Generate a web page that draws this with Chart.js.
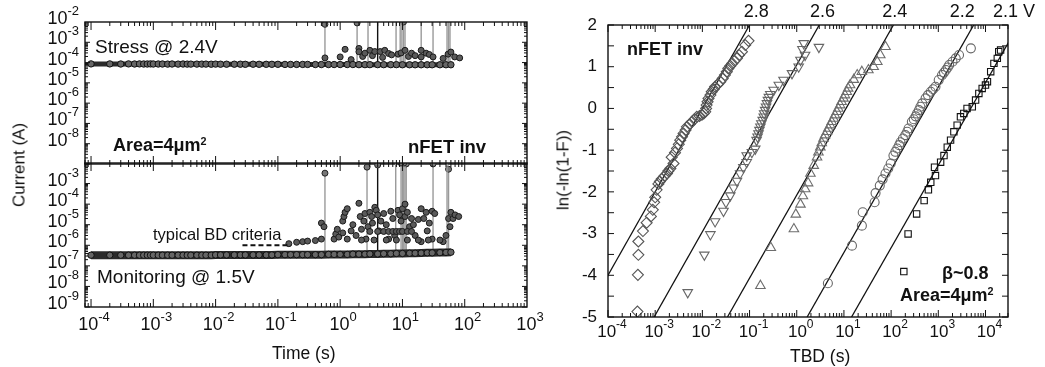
<!DOCTYPE html>
<html>
<head>
<meta charset="utf-8">
<script src="https://cdn.jsdelivr.net/npm/chart.js@4.4.1/dist/chart.umd.min.js"></script>
<style>
  body { margin: 0; background: #fff; width: 1045px; height: 367px; overflow: hidden; position: relative;
         font-family: "Liberation Sans", Arial, sans-serif; color: #111; }
  canvas { position: absolute; }
  .t { position: absolute; white-space: nowrap; line-height: 1; }
  .b { font-weight: bold; }
  .rot { transform: translate(-50%, -50%) rotate(-90deg); }
  .t sup { font-size: 0.6em; vertical-align: 0.55em; line-height: 0; }
</style>
</head>
<body>
<canvas id="stressChart" width="560" height="367" style="left:0;top:0"></canvas>
<canvas id="monitorChart" width="560" height="367" style="left:0;top:0"></canvas>
<canvas id="weibullChart" width="505" height="367" style="left:540px;top:0"></canvas>

<div class="t" style="left:95px;top:37px;font-size:19px">Stress @ 2.4V</div>
<div class="t b" style="left:113px;top:136px;font-size:18px">Area=4μm<sup>2</sup></div>
<div class="t b" style="left:408px;top:138px;font-size:18.5px">nFET inv</div>
<div class="t" style="left:153px;top:226px;font-size:16.5px">typical BD criteria</div>
<div class="t" style="left:97px;top:267px;font-size:19px">Monitoring @ 1.5V</div>
<div class="t" style="left:272px;top:345px;font-size:17.5px">Time (s)</div>
<div class="t rot" style="left:19px;top:165px;font-size:17px">Current (A)</div>

<div class="t b" style="left:627px;top:40px;font-size:18px">nFET inv</div>
<div class="t b" style="left:942px;top:264px;font-size:18px">β~0.8</div>
<div class="t b" style="left:900px;top:286px;font-size:18px">Area=4μm<sup>2</sup></div>
<div class="t" style="left:790px;top:348px;font-size:17.5px">TBD (s)</div>
<div class="t rot" style="left:563px;top:170px;font-size:17px">ln(-ln(1-F))</div>

<script>
// ---- left panels: current vs time ----
const baseTime = [1e-4, 2e-4, 3e-4, 4e-4, 5e-4, 6e-4, 7e-4, 8e-4, 9e-4, 1e-3,
  1.2e-3, 1.4e-3, 1.7e-3, 2e-3, 2.5e-3, 3e-3, 3.5e-3, 4e-3, 5e-3, 6e-3,
  7e-3, 8.5e-3, 0.01, 0.012, 0.015, 0.02, 0.025, 0.03, 0.04, 0.05,
  0.065, 0.08, 0.1, 0.13, 0.16, 0.2, 0.25, 0.3, 0.4, 0.5,
  0.65, 0.8, 1, 1.3, 1.6, 2, 2.5, 3, 4, 5,
  6.5, 8, 10, 13, 16, 20, 25, 30, 40, 50, 60];
const stressCurrent = [8.6e-5, 8.6e-5, 8.5e-5, 8.6e-5, 8.5e-5, 8.6e-5, 8.5e-5, 8.5e-5, 8.6e-5, 8.5e-5,
  8.5e-5, 8.5e-5, 8.4e-5, 8.5e-5, 8.4e-5, 8.5e-5, 8.4e-5, 8.4e-5, 8.4e-5, 8.4e-5,
  8.4e-5, 8.3e-5, 8.4e-5, 8.3e-5, 8.3e-5, 8.3e-5, 8.3e-5, 8.2e-5, 8.3e-5, 8.2e-5,
  8.2e-5, 8.2e-5, 8.2e-5, 8.1e-5, 8.1e-5, 8.1e-5, 8.1e-5, 8.1e-5, 8.0e-5, 8.0e-5,
  8.0e-5, 8.0e-5, 8.0e-5, 8.0e-5, 8.0e-5, 7.9e-5, 7.9e-5, 7.9e-5, 7.9e-5, 7.9e-5,
  7.9e-5, 7.9e-5, 7.8e-5, 7.8e-5, 7.8e-5, 7.8e-5, 7.8e-5, 7.8e-5, 7.8e-5, 7.8e-5, 7.8e-5];
const monitorCurrent = [3.3e-7, 3.3e-7, 3.3e-7, 3.3e-7, 3.3e-7, 3.3e-7, 3.3e-7, 3.3e-7, 3.3e-7, 3.3e-7,
  3.3e-7, 3.3e-7, 3.3e-7, 3.3e-7, 3.3e-7, 3.3e-7, 3.3e-7, 3.3e-7, 3.3e-7, 3.3e-7,
  3.3e-7, 3.3e-7, 3.4e-7, 3.4e-7, 3.4e-7, 3.4e-7, 3.4e-7, 3.4e-7, 3.4e-7, 3.4e-7,
  3.4e-7, 3.4e-7, 3.5e-7, 3.5e-7, 3.5e-7, 3.5e-7, 3.5e-7, 3.5e-7, 3.5e-7, 3.5e-7,
  3.6e-7, 3.6e-7, 3.6e-7, 3.6e-7, 3.7e-7, 3.7e-7, 3.7e-7, 3.8e-7, 3.8e-7, 3.9e-7,
  3.9e-7, 4.0e-7, 4.0e-7, 4.1e-7, 4.1e-7, 4.2e-7, 4.3e-7, 4.3e-7, 4.4e-7, 4.5e-7, 4.6e-7];

const stressSpikeTime = [0.57, 1.87, 2.8, 4.0, 7.9, 9.2, 9.8, 10.4, 11, 20, 31, 52, 55, 58];
const stressSpikeTop = [7.7e-3, 9e-3, 2e-2, 2e-2, 2e-2, 2e-2, 2e-2, 1e-2, 2e-2, 2e-2, 2e-2, 2e-2, 2e-2, 2e-2];
const stressScatterTime = [0.57, 1.0, 1.2, 1.5, 2.0, 2.0, 2.3, 2.5, 3.0, 3.3, 3.6, 4.4, 4.8, 5.2, 6, 6.7,
  8.5, 9.5, 11, 12.5, 14, 16, 20, 20, 24, 27, 31, 45, 54, 60, 69, 83];
const stressScatterCurrent = [1.7e-4, 1.9e-4, 4.5e-4, 1.4e-4, 5e-4, 3.4e-4, 2e-4, 2.9e-4, 4e-4, 2.2e-4, 3.5e-4, 3.5e-4, 1.8e-4, 4e-4, 2.8e-4, 2.4e-4,
  2.6e-4, 3e-4, 4e-4, 2e-4, 2.9e-4, 2.2e-4, 4e-4, 1.9e-4, 2.9e-4, 2.5e-4, 1.9e-4, 1.6e-4, 2.6e-4, 3.3e-4, 1.9e-4, 1.7e-4];

const monitorSpikeTime = [0.57, 2.7, 4.0, 7.8, 9.5, 10, 10.5, 11, 11.5, 31, 52, 55];
const monitorSpikeTop = [3.2e-3, 6.3e-3, 8e-3, 2e-2, 1e-2, 2e-2, 1e-2, 2e-2, 9e-3, 9e-3, 2e-2, 5e-3];
const monitorScatterTime = [0.15, 0.2, 0.25, 0.3, 0.4, 0.5, 0.5, 0.55, 0.8, 0.85, 0.9, 0.95,
  1.1, 1.15, 1.2, 1.3, 1.1, 1.3, 1.5, 1.6, 1.8, 2.0, 2.1, 2.2, 2.4, 2.5, 2.6, 2.8, 3.0, 3.2, 3.3,
  3.6, 3.8, 4.0, 4.2, 4.5, 5.0, 5.5, 6.0, 6.5, 7.0, 7.5, 8.5, 9.0, 9.5, 10, 11, 11, 12, 13, 14, 15,
  16, 18, 20, 20, 22, 24, 25, 27, 30, 30, 33, 45, 50, 55, 58, 60, 65, 70, 80,
  3, 4, 5, 6, 7, 8, 9, 10, 12, 14, 2.2, 3.5, 5.5, 8, 12, 18, 26, 40];
const monitorScatterCurrent = [1.2e-6, 1.4e-6, 1.5e-6, 1.6e-6, 1.7e-6, 2.0e-6, 1.2e-5, 8e-6, 2e-6, 3.5e-6, 6e-6, 2.5e-6,
  1.5e-5, 2.5e-5, 4e-5, 6e-5, 4e-6, 2e-6, 5e-6, 1e-5, 3e-6, 1.1e-4, 2.5e-5, 6e-6, 1.5e-5, 3.5e-5, 2e-6, 8e-6, 4e-5, 2.5e-5, 1.2e-5,
  7e-5, 5e-5, 3e-5, 5e-6, 1.5e-5, 3.5e-5, 1e-5, 2e-6, 4.5e-5, 2e-5, 3e-6, 5e-5, 3e-5, 1.5e-5, 6e-5, 1e-4, 2.5e-5, 4e-5, 8e-6, 2e-5, 1e-5,
  3e-6, 1.8e-5, 6e-5, 1.5e-6, 2e-5, 4e-5, 5e-6, 1.2e-5, 4.5e-5, 2e-6, 3.5e-5, 1.5e-6, 3e-6, 2e-5, 8e-6, 4e-5, 2e-5, 3e-5, 2.5e-5,
  4.7e-6, 4.7e-6, 4.7e-6, 4.7e-6, 4.7e-6, 4.7e-6, 4.7e-6, 4.7e-6, 4.7e-6, 4.7e-6, 1.8e-6, 1.8e-6, 1.8e-6, 1.8e-6, 1.8e-6, 1.8e-6, 1.8e-6, 1.8e-6];
const criteriaTime = [0.027, 0.16];
const criteriaCurrent = [1e-6, 1e-6];

// ---- right panel: Weibull plot ----
const voltageLabels = ['2.8', '2.6', '2.4', '2.2', '2.1 V'];
const voltageLabelTime = [0.138, 3.5, 120, 3200, 4e4];
const tbd28 = [4.2e-4, 4.3e-4, 4.4e-4, 4.4e-4, 5.5e-4, 6.6e-4, 8.1e-4, 8.9e-4, 9.5e-4, 1.0e-3, 1.07e-3, 1.17e-3, 1.26e-3, 1.38e-3,
  1.58e-3, 1.78e-3, 1.9e-3, 2.1e-3, 2.45e-3, 2.24e-3, 2.63e-3, 2.9e-3, 3.16e-3, 3.4e-3, 3.7e-3, 4.0e-3, 4.4e-3, 4.7e-3,
  5.4e-3, 6.0e-3, 6.8e-3, 7.6e-3, 8.7e-3, 9.8e-3, 1.07e-2, 1.15e-2, 1.2e-2, 1.23e-2, 1.29e-2, 1.35e-2, 1.48e-2, 1.58e-2,
  1.74e-2, 1.86e-2, 2.14e-2, 2.4e-2, 2.7e-2, 3.0e-2, 3.3e-2, 3.55e-2, 3.9e-2, 4.3e-2, 4.8e-2, 5.4e-2, 6.0e-2, 6.9e-2, 8.1e-2, 9.5e-2];
const lnF28 = [-4.87, -3.99, -3.51, -3.19, -2.94, -2.74, -2.59, -2.43, -2.25, -2.13, -1.95, -1.81, -1.75, -1.69,
  -1.62, -1.56, -1.50, -1.44, -1.32, -1.17, -1.06, -0.96, -0.86, -0.76, -0.68, -0.60, -0.52, -0.44,
  -0.38, -0.32, -0.26, -0.20, -0.18, -0.15, -0.12, -0.08, 0.0, 0.08, 0.16, 0.24, 0.32, 0.40,
  0.46, 0.52, 0.58, 0.64, 0.72, 0.80, 0.88, 0.96, 1.02, 1.08, 1.14, 1.20, 1.28, 1.36, 1.52, 1.62];
const tbd26 = [4.9e-3, 1.1e-2, 1.48e-2, 1.86e-2, 2.8e-2, 3.16e-2, 3.9e-2, 4.6e-2, 5.4e-2, 6.3e-2, 7.4e-2, 8.7e-2, 8.7e-2,
  0.112, 0.132, 0.141, 0.148, 0.155, 0.162, 0.170, 0.178, 0.19, 0.2, 0.204, 0.214, 0.224, 0.234, 0.245, 0.257, 0.275,
  0.324, 0.417, 0.525, 0.794, 1.1, 1.2, 1.32, 1.5, 1.41, 2.95];
const lnF26 = [-4.41, -3.51, -3.02, -2.71, -2.46, -2.25, -2.09, -1.90, -1.74, -1.56, -1.41, -1.29, -1.13,
  -1.05, -0.97, -0.76, -0.68, -0.60, -0.52, -0.44, -0.36, -0.28, -0.20, -0.12, -0.04, 0.04, 0.12, 0.20, 0.27, 0.34,
  0.44, 0.56, 0.68, 0.84, 1.0, 1.16, 1.42, 1.28, 1.56, 1.47];
const tbd24 = [0.170, 0.282, 0.87, 0.955, 1.2, 1.35, 1.51, 1.74, 1.95, 2.29, 2.69, 2.88, 3.16, 3.39, 3.7, 3.98, 4.37, 4.68,
  5.13, 5.5, 6.03, 6.46, 7.08, 7.6, 8.3, 8.9, 9.8, 10.5, 11.5, 12.3, 13.5, 16.2, 19.1, 24, 33, 42.7, 51, 59, 76];
const lnF24 = [-4.25, -3.34, -2.89, -2.54, -2.30, -2.10, -1.93, -1.79, -1.56, -1.37, -1.17, -1.05, -0.93, -0.83, -0.72, -0.64, -0.56, -0.48,
  -0.40, -0.32, -0.24, -0.16, -0.08, 0.0, 0.08, 0.16, 0.24, 0.32, 0.40, 0.48, 0.56, 0.69, 0.80, 0.88, 0.92, 1.00, 1.12, 1.28, 1.48];
const tbd22 = [4.57, 14.8, 24, 25, 44.7, 46.8, 57.5, 66, 76, 87, 98, 112, 123, 135, 148, 158, 178, 200, 219, 234, 275,
  302, 331, 355, 389, 417, 457, 537, 603, 692, 776, 871, 1020, 1200, 1320, 1450, 1580, 1700, 2000, 2340, 2750, 4900];
const lnF22 = [-4.19, -3.29, -2.81, -2.49, -2.25, -2.03, -1.85, -1.70, -1.56, -1.44, -1.32, -1.13, -1.04, -0.96, -0.88, -0.81, -0.72, -0.64, -0.56, -0.48, -0.32,
  -0.26, -0.19, -0.12, -0.04, 0.04, 0.12, 0.24, 0.32, 0.40, 0.46, 0.52, 0.68, 0.80, 0.86, 0.92, 0.98, 1.04, 1.12, 1.20, 1.28, 1.44];
const tbd21 = [186, 229, 347, 501, 617, 692, 871, 832, 1120, 1320, 1550, 1820, 2140, 2510, 2950, 3470, 4070, 5250,
  6170, 7240, 8510, 10000, 11000, 12900, 15100, 17800, 19100, 20900];
const lnF21 = [-3.91, -3.01, -2.53, -2.21, -1.95, -1.77, -1.61, -1.41, -1.29, -1.13, -0.93, -0.76, -0.56, -0.40, -0.20, -0.12, 0.0, 0.04,
  0.20, 0.36, 0.48, 0.56, 0.64, 0.88, 1.08, 1.20, 1.36, 1.40];
// fitted lines, TBD at ln(-ln(1-F)) = -5 and = 2
const fitLnF = [-5, 2];
const fitTime = [[3.16e-5, 0.1], [9.5e-4, 3.0], [0.034, 112], [1.66, 5620], [14.5, 5e4]];

// ---- helpers ----
const FONT = '"Liberation Sans", Arial, sans-serif';
const pts = (xs, ys) => xs.map((x, i) => ({ x, y: ys[i] }));

function logTicks(lo, hi, majorLen, minorLen) {
  const out = [];
  for (let e = lo; e <= hi; e++) {
    for (let m = 1; m < 10; m++) out.push([m * Math.pow(10, e), m === 1 ? majorLen : minorLen]);
  }
  return out;
}

function powText(ctx, exp, x, y, align, big, small) {
  ctx.font = big + 'px ' + FONT;
  const wb = ctx.measureText('10').width;
  ctx.font = small + 'px ' + FONT;
  const we = ctx.measureText(exp).width;
  const x0 = align === 'right' ? x - wb - we : x - (wb + we) / 2;
  ctx.textAlign = 'left';
  ctx.textBaseline = 'middle';
  ctx.font = big + 'px ' + FONT;
  ctx.fillText('10', x0, y);
  ctx.font = small + 'px ' + FONT;
  ctx.fillText(exp, x0 + wb, y - big * 0.42);
}

// draws the box, inward ticks on all four sides and tick labels
function makeFrame(cfg) {
  return {
    id: 'frame',
    afterDraw(chart) {
      const { ctx, chartArea: a } = chart;
      const xs = chart.scales.x, ys = chart.scales.y;
      ctx.save();
      ctx.strokeStyle = '#111';
      ctx.lineWidth = 1;
      ctx.beginPath();
      cfg.xTicks.forEach(([v, len]) => {
        const x = xs.getPixelForValue(v);
        if (x < a.left - 0.5 || x > a.right + 0.5) return;
        ctx.moveTo(x, a.bottom); ctx.lineTo(x, a.bottom - len);
        ctx.moveTo(x, a.top); ctx.lineTo(x, a.top + len);
      });
      cfg.yTicks.forEach(([v, len]) => {
        const y = ys.getPixelForValue(v);
        if (y < a.top - 0.5 || y > a.bottom + 0.5) return;
        ctx.moveTo(a.left, y); ctx.lineTo(a.left + len, y);
        ctx.moveTo(a.right, y); ctx.lineTo(a.right - len, y);
      });
      ctx.stroke();
      ctx.lineWidth = 1.4;
      ctx.strokeRect(a.left, a.top, a.right - a.left, a.bottom - a.top);

      ctx.fillStyle = '#111';
      (cfg.xPow || []).forEach(e => powText(ctx, String(e), xs.getPixelForValue(Math.pow(10, e)) + cfg.xDx,
        a.bottom + cfg.xDy, 'center', cfg.xBig, cfg.xSmall));
      (cfg.yPow || []).forEach(e => powText(ctx, String(e), a.left - 6,
        ys.getPixelForValue(Math.pow(10, e)) + cfg.yDy, 'right', cfg.yBig, cfg.ySmall));
      ctx.textBaseline = 'middle';
      (cfg.yNum || []).forEach(v => {
        ctx.font = cfg.yNumSize + 'px ' + FONT;
        ctx.textAlign = 'right';
        ctx.fillText(String(v), a.left - 11, ys.getPixelForValue(v));
      });
      (cfg.topText || []).forEach(([t, s]) => {
        ctx.font = cfg.topSize + 'px ' + FONT;
        ctx.textAlign = 'center';
        ctx.fillText(s, xs.getPixelForValue(t), a.top - 13);
      });
      ctx.restore();
    }
  };
}

function spikeSets(times, tops, base) {
  return times.map((t, i) => ({
    data: [{ x: t, y: base }, { x: t, y: tops[i] }],
    showLine: true,
    borderColor: t === 4.0 ? '#111' : '#9a9a9a',
    borderWidth: 1.4,
    pointRadius: [0, 3],
    pointBackgroundColor: '#777',
    pointBorderColor: '#222',
    pointBorderWidth: 1,
    order: 3
  }));
}

function bandSet(times, cur, width) {
  return {
    data: pts(times, cur),
    showLine: true,
    borderColor: '#2b2b2b',
    borderWidth: width,
    pointRadius: 3.2,
    pointBackgroundColor: '#666',
    pointBorderColor: '#111',
    pointBorderWidth: 1,
    order: 1
  };
}

function scatterSet(times, cur) {
  return {
    data: pts(times, cur),
    pointRadius: 3,
    pointBackgroundColor: '#5a5a5a',
    pointBorderColor: '#1a1a1a',
    pointBorderWidth: 1,
    order: 2
  };
}

const baseOptions = (padding, xr, yr) => ({
  responsive: false,
  animation: false,
  layout: { padding },
  scales: {
    x: { type: 'logarithmic', min: xr[0], max: xr[1], display: false },
    y: { type: yr[2] || 'logarithmic', min: yr[0], max: yr[1], display: false }
  },
  plugins: { legend: { display: false }, tooltip: { enabled: false } }
});

// ---- stress panel ----
new Chart(document.getElementById('stressChart'), {
  type: 'scatter',
  data: {
    datasets: [
      bandSet(baseTime, stressCurrent, 5),
      scatterSet(stressScatterTime, stressScatterCurrent),
      ...spikeSets(stressSpikeTime, stressSpikeTop, 8.2e-5)
    ]
  },
  options: baseOptions({ left: 85, top: 22, right: 33, bottom: 203 }, [8e-5, 1e3], [1e-9, 1e-2]),
  plugins: [makeFrame({
    xTicks: logTicks(-5, 2, 8, 4), yTicks: logTicks(-9, -3, 5, 3),
    yPow: [-2, -3, -4, -5, -6, -7, -8], yDy: -3, yBig: 18, ySmall: 13
  })]
});

// ---- monitoring panel ----
new Chart(document.getElementById('monitorChart'), {
  type: 'scatter',
  data: {
    datasets: [
      bandSet(baseTime, monitorCurrent, 8),
      scatterSet(monitorScatterTime, monitorScatterCurrent),
      {
        data: pts(criteriaTime, criteriaCurrent),
        showLine: true, borderColor: '#111', borderWidth: 2, borderDash: [5, 3], pointRadius: 0, order: 0
      },
      ...spikeSets(monitorSpikeTime, monitorSpikeTop, 4e-7)
    ]
  },
  options: baseOptions({ left: 85, top: 163, right: 33, bottom: 60 }, [8e-5, 1e3], [1e-9, 1e-2]),
  plugins: [makeFrame({
    xTicks: logTicks(-5, 2, 8, 4), yTicks: logTicks(-9, -3, 5, 3),
    yPow: [-3, -4, -5, -6, -7, -8, -9], yDy: -3, yBig: 18, ySmall: 13,
    xPow: [-4, -3, -2, -1, 0, 1, 2, 3], xDx: 3, xDy: 18, xBig: 18, xSmall: 13
  })]
});

// ---- Weibull panel ----
const seriesStyle = [
  { t: tbd28, f: lnF28, style: 'rectRot', r: 5.5, rot: 0, c: '#555' },
  { t: tbd26, f: lnF26, style: 'triangle', r: 5.5, rot: 180, c: '#666' },
  { t: tbd24, f: lnF24, style: 'triangle', r: 5.5, rot: 0, c: '#6d6d6d' },
  { t: tbd22, f: lnF22, style: 'circle', r: 4.5, rot: 0, c: '#666' },
  { t: tbd21, f: lnF21, style: 'rect', r: 4.5, rot: 0, c: '#111' }
];
const weibullSets = [];
seriesStyle.forEach((s, i) => {
  weibullSets.push({
    data: pts(s.t, s.f),
    pointStyle: s.style, pointRotation: s.rot, pointRadius: s.r,
    pointBackgroundColor: 'rgba(255,255,255,0)', pointBorderColor: s.c, pointBorderWidth: 1.1
  });
  weibullSets.push({
    data: pts(fitTime[i], fitLnF),
    showLine: true, borderColor: '#111', borderWidth: 1.3, pointRadius: 0
  });
});

new Chart(document.getElementById('weibullChart'), {
  type: 'scatter',
  data: { datasets: weibullSets },
  options: baseOptions({ left: 68, top: 25, right: 37, bottom: 50 }, [1e-4, 3e4], [-5, 2, 'linear']),
  plugins: [makeFrame({
    xTicks: logTicks(-4, 4, 7, 4),
    yTicks: [-5, -4.5, -4, -3.5, -3, -2.5, -2, -1.5, -1, -0.5, 0, 0.5, 1, 1.5, 2].map(v => [v, 6]),
    xPow: [-4, -3, -2, -1, 0, 1, 2, 3, 4], xDx: 4, xDy: 15, xBig: 17, xSmall: 12,
    yNum: [2, 1, 0, -1, -2, -3, -4, -5], yNumSize: 17,
    topText: voltageLabels.map((s, i) => [voltageLabelTime[i], s]), topSize: 18
  })]
});
</script>
</body>
</html>
